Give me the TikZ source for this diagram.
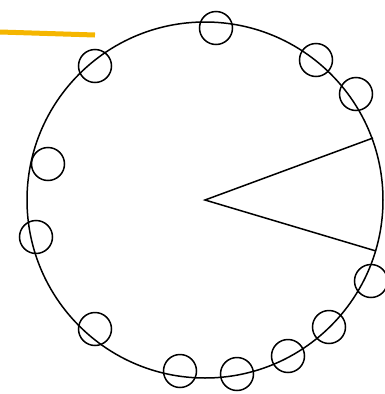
\documentclass[tikz,border=0pt]{standalone}
\definecolor{gold}{RGB}{245,182,0}
\begin{document}
\begin{tikzpicture}[x=1pt,y=-1pt,
  bead/.style={draw=black,line width=1.5pt,circle,inner sep=0pt,minimum size=33pt},
  ring/.style={draw=black,line width=1.5pt},
  pointer/.style={draw=gold,line width=5pt}]
\useasboundingbox (0,0) rectangle (385,394);
\coordinate (c) at (205,200);
\draw[ring] (c) circle (178);
\foreach \n/\x/\y in {a/216/28,b/95/66,c1/48/164,d/36/237,e/95/329,f/180/371,g/237/374,h/288/356,i/329/327,j/371/281,k/316/60,l/356/94}
  \node[bead] (\n) at (\x,\y) {};
\coordinate (p1) at (373,138);
\coordinate (p2) at (376,251);
\draw[ring] (p1) -- (c) -- (p2);
\coordinate (o1) at (0,32);
\coordinate (o2) at (95,35);
\draw[pointer] (o1) -- (o2);
\end{tikzpicture}
\end{document}
